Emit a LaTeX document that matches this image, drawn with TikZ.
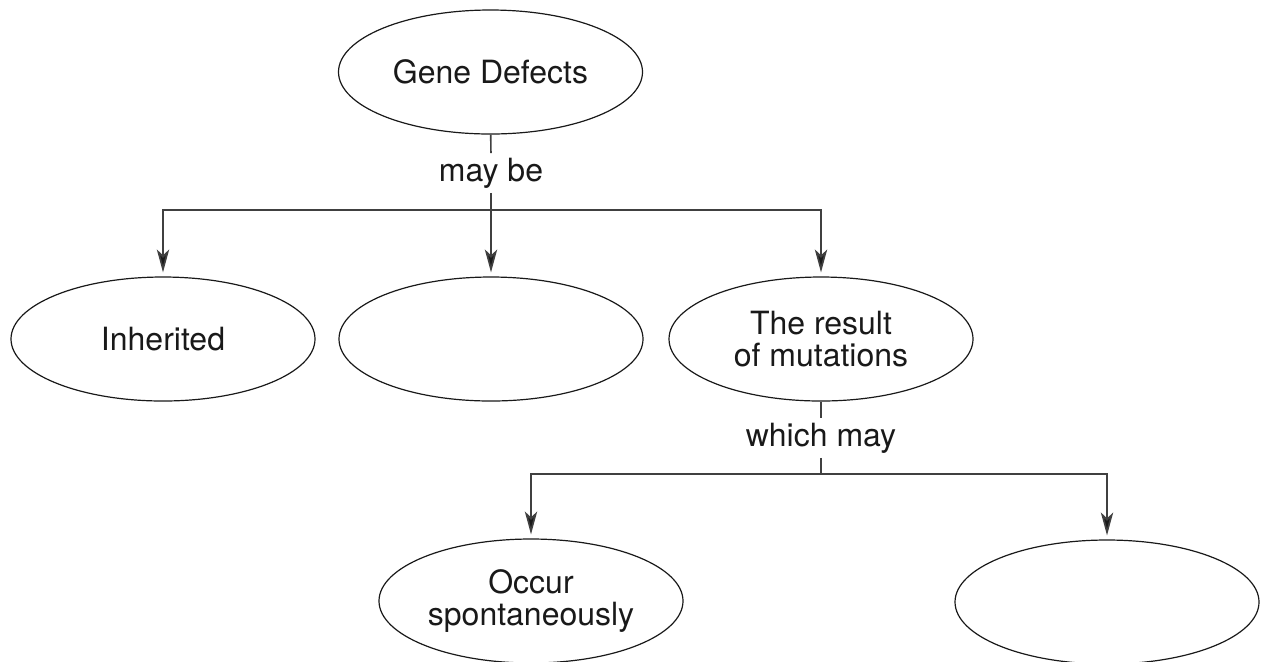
\documentclass[tikz,border=0pt]{standalone}
\usepackage{fontspec}
\setmainfont{TeX Gyre Heros}
\usetikzlibrary{arrows.meta,shapes.geometric}
\begin{document}
\begin{tikzpicture}[x=0.5pt,y=-0.5pt,
  bubble/.style={draw=black!90, line width=0.6pt, ellipse, inner sep=0pt,
    minimum width=152pt, minimum height=62pt, align=center,
    font=\fontsize{16}{16}\selectfont, text=black!90},
  linklabel/.style={inner sep=0pt, minimum height=19.5pt,
    font=\fontsize{16}{16}\selectfont, text=black!90},
  conn/.style={draw=black!75, line width=0.85pt},
  arr/.style={conn, -{Stealth[length=11.5pt, width=6.2pt, inset=3pt, fill=black!90]}, shorten >=2pt}]
\useasboundingbox (0,0) rectangle (1262,661);
\node[bubble] (gd) at (490.5,72) {Gene Defects};
\node[bubble] (inh) at (163,339) {Inherited};
\node[bubble] (mid) at (491,339) {};
\node[bubble] (res) at (821,339) {The result\\of mutations};
\node[bubble] (occ) at (531,601) {Occur\\spontaneously};
\node[bubble] (rt) at (1107,602) {};
\node[linklabel] (mb) at (491,173) {may be};
\node[linklabel] (wm) at (821,438) {which may};
\coordinate (j1) at (491,210);
\coordinate (j2) at (821,474);
\draw[conn] (gd) -- (mb);
\draw[conn] (mb) -- (j1);
\draw[arr] (j1) -| (inh);
\draw[arr] (j1) -- (mid);
\draw[arr] (j1) -| (res);
\draw[conn] (res) -- (wm);
\draw[conn] (wm) -- (j2);
\draw[arr] (j2) -| (occ);
\draw[arr] (j2) -| (rt);
\end{tikzpicture}
\end{document}
